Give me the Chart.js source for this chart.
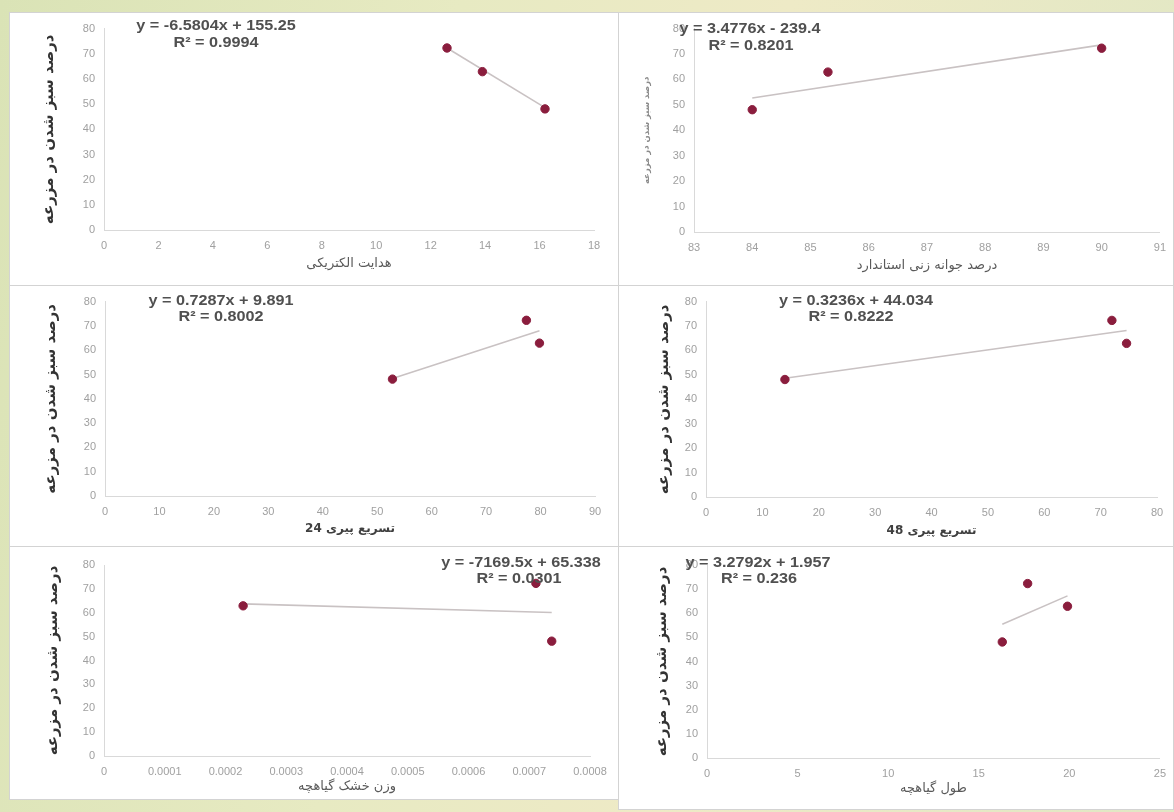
<!DOCTYPE html>
<html>
<head>
<meta charset="utf-8">
<script src="https://cdn.jsdelivr.net/npm/chart.js@4.4.0/dist/chart.umd.min.js"></script>
<style>
  html, body { margin: 0; padding: 0; }
  body {
    width: 1174px; height: 812px; overflow: hidden; position: relative;
    background: linear-gradient(100deg, #dae3b6 0%, #e7eac2 35%, #eeeac6 60%, #e0e7c4 100%);
  }
  .panel { position: absolute; background: #fff; border: 1px solid #d3d3d3; box-sizing: border-box; }
  canvas { position: absolute; left: 0; top: 0; }
</style>
</head>
<body>
<script>
// ---------- data ----------
const yTitle = "درصد سبز شدن در مزرعه";

// Panel 1: electrical conductivity
const ecX = [12.6, 13.9, 16.2];
const ecY = [72.3, 62.9, 48.1];
const ecTrendX = [12.6, 16.2];
const ecTrendY = [72.3, 48.6];
const ecTicks = [0, 2, 4, 6, 8, 10, 12, 14, 16, 18];
const ecEq = ["y = -6.5804x + 155.25", "R² = 0.9994"];

// Panel 2: standard germination percent
const germX = [84, 85.3, 90];
const germY = [48.1, 62.9, 72.3];
const germTrendX = [84, 90];
const germTrendY = [52.7, 73.6];
const germTicks = [83, 84, 85, 86, 87, 88, 89, 90, 91];
const germEq = ["y = 3.4776x - 239.4", "R² = 0.8201"];

// Panel 3: accelerated ageing 24
const age24X = [77.4, 79.8, 52.8];
const age24Y = [72.3, 62.9, 48.1];
const age24TrendX = [52.8, 79.8];
const age24TrendY = [48.4, 68.0];
const age24Ticks = [0, 10, 20, 30, 40, 50, 60, 70, 80, 90];
const age24Eq = ["y = 0.7287x + 9.891", "R² = 0.8002"];

// Panel 4: accelerated ageing 48
const age48X = [72, 74.6, 14];
const age48Y = [72.3, 62.9, 48.1];
const age48TrendX = [14, 74.6];
const age48TrendY = [48.6, 68.2];
const age48Ticks = [0, 10, 20, 30, 40, 50, 60, 70, 80];
const age48Eq = ["y = 0.3236x + 44.034", "R² = 0.8222"];

// Panel 5: seedling dry weight
const dwX = [0.000711, 0.000229, 0.000737];
const dwY = [72.3, 62.9, 48.1];
const dwTrendX = [0.000229, 0.000737];
const dwTrendY = [63.7, 60.1];
const dwTicks = [0, 0.0001, 0.0002, 0.0003, 0.0004, 0.0005, 0.0006, 0.0007, 0.0008];
const dwEq = ["y = -7169.5x + 65.338", "R² = 0.0301"];

// Panel 6: seedling length
const lenX = [17.7, 19.9, 16.3];
const lenY = [72.3, 62.9, 48.1];
const lenTrendX = [16.3, 19.9];
const lenTrendY = [55.4, 67.2];
const lenTicks = [0, 5, 10, 15, 20, 25];
const lenEq = ["y = 3.2792x + 1.957", "R² = 0.236"];

const yTicks = [0, 10, 20, 30, 40, 50, 60, 70, 80];

const xTitles = ["هدایت الکتریکی", "درصد جوانه زنی استاندارد", "تسریع پیری 24", "تسریع پیری 48", "وزن خشک گیاهچه", "طول گیاهچه"];

// ---------- layout (page coordinates) ----------
const panels = [
  { box: [9, 12, 610, 274], plot: [103, 25, 593, 229], yTitleX: 48, yTitleSize: 15, xTitleY: 263, xTitleSize: 13, xBold: false,
    x: ecX, y: ecY, tx: ecTrendX, ty: ecTrendY, ticks: ecTicks, eq: ecEq, eqPos: [[215, 25], [215, 42]], title: xTitles[0] },
  { box: [618, 12, 556, 274], plot: [693, 27, 1159, 231], yTitleX: 646, yTitleSize: 8.5, xTitleY: 265, xTitleSize: 13, xBold: false,
    x: germX, y: germY, tx: germTrendX, ty: germTrendY, ticks: germTicks, eq: germEq, eqPos: [[749, 28], [750, 45]], title: xTitles[1] },
  { box: [9, 285, 610, 262], plot: [104, 300, 594, 495], yTitleX: 50, yTitleSize: 15, xTitleY: 528, xTitleSize: 12, xBold: true,
    x: age24X, y: age24Y, tx: age24TrendX, ty: age24TrendY, ticks: age24Ticks, eq: age24Eq, eqPos: [[220, 300], [220, 316]], title: xTitles[2] },
  { box: [618, 285, 556, 262], plot: [705, 300, 1156, 496], yTitleX: 663, yTitleSize: 15, xTitleY: 530, xTitleSize: 12, xBold: true,
    x: age48X, y: age48Y, tx: age48TrendX, ty: age48TrendY, ticks: age48Ticks, eq: age48Eq, eqPos: [[855, 300], [850, 316]], title: xTitles[3] },
  { box: [9, 546, 610, 254], plot: [103, 564, 589, 755], yTitleX: 52, yTitleSize: 15, xTitleY: 786, xTitleSize: 13, xBold: false,
    x: dwX, y: dwY, tx: dwTrendX, ty: dwTrendY, ticks: dwTicks, eq: dwEq, eqPos: [[520, 562], [518, 578]], title: xTitles[4],
    fmt: v => (v === 0 ? "0" : v.toFixed(4)) },
  { box: [618, 546, 556, 264], plot: [706, 564, 1162, 757], yTitleX: 661, yTitleSize: 15, xTitleY: 788, xTitleSize: 13, xBold: false,
    x: lenX, y: lenY, tx: lenTrendX, ty: lenTrendY, ticks: lenTicks, eq: lenEq, eqPos: [[757, 562], [758, 578]], title: xTitles[5] },
];

const persianFont = "'DejaVu Sans', 'Noto Sans', sans-serif";
const tickFont = { family: "'Liberation Sans', Arial, sans-serif", size: 11 };

panels.forEach((p, i) => {
  const [bx, by, bw, bh] = p.box;
  const div = document.createElement('div');
  div.className = 'panel';
  div.style.left = bx + 'px'; div.style.top = by + 'px';
  div.style.width = bw + 'px'; div.style.height = bh + 'px';
  document.body.appendChild(div);
  const cv = document.createElement('canvas');
  cv.width = bw; cv.height = bh;
  cv.style.width = bw + 'px'; cv.style.height = bh + 'px';
  div.appendChild(cv);

  const yLh = p.yTitleSize * 1.2;
  const scaleLeft = p.yTitleX - bx - yLh / 2;
  const yWidth = (p.plot[0] - bx) - scaleLeft;
  const xLh = p.xTitleSize * 1.2;
  const scaleBottom = p.xTitleY - by + xLh / 2;
  const xHeight = scaleBottom - (p.plot[3] - by);

  const points = p.x.map((v, k) => ({ x: v, y: p.y[k] }));
  const trend = p.tx.map((v, k) => ({ x: v, y: p.ty[k] }));

  const eqPlugin = {
    id: 'eq' + i,
    afterDraw(chart) {
      const ctx = chart.ctx;
      ctx.save();
      ctx.fillStyle = '#505050';
      ctx.font = "bold 15px 'Liberation Sans', Arial, sans-serif";
      ctx.textAlign = 'center';
      ctx.textBaseline = 'middle';
      p.eq.forEach((t, k) => {
        ctx.save();
        ctx.translate(p.eqPos[k][0] - bx, p.eqPos[k][1] - by);
        ctx.scale(1.08, 1);
        ctx.fillText(t, 0, 0);
        ctx.restore();
      });
      ctx.restore();
    }
  };

  new Chart(cv, {
    type: 'scatter',
    data: {
      datasets: [
        { data: points, backgroundColor: '#8a1d3d', borderColor: '#8a1d3d', pointRadius: 4.2, pointHoverRadius: 4.2, order: 0 },
        { type: 'line', data: trend, showLine: true, borderColor: '#c9c2c3', borderWidth: 1.6, pointRadius: 0, fill: false, order: 1 }
      ]
    },
    options: {
      responsive: false,
      animation: false,
      events: [],
      layout: { padding: { left: scaleLeft, top: p.plot[1] - by, right: bx + bw - p.plot[2], bottom: bh - scaleBottom } },
      plugins: { legend: { display: false }, tooltip: { enabled: false } },
      scales: {
        x: {
          type: 'linear',
          min: p.ticks[0], max: p.ticks[p.ticks.length - 1],
          afterBuildTicks: s => { s.ticks = p.ticks.map(v => ({ value: v })); },
          afterFit: s => { s.height = xHeight; },
          grid: { display: false, drawTicks: false },
          border: { display: true, color: '#d9d9d9', width: 1 },
          ticks: { color: '#a0a0a0', font: tickFont, padding: 9, maxRotation: 0, autoSkip: false,
                   callback: p.fmt ? (v => p.fmt(v)) : (v => String(v)) },
          title: { display: true, text: p.title, color: p.xBold ? '#404040' : '#5a5a5a', padding: 0,
                   font: { family: persianFont, size: p.xTitleSize, weight: p.xBold ? 'bold' : 'normal' } }
        },
        y: {
          type: 'linear',
          min: 0, max: 80,
          afterBuildTicks: s => { s.ticks = yTicks.map(v => ({ value: v })); },
          afterFit: s => { s.width = yWidth; },
          grid: { display: false, drawTicks: false },
          border: { display: true, color: '#d9d9d9', width: 1 },
          ticks: { color: '#a0a0a0', font: tickFont, padding: 9 },
          title: { display: true, text: yTitle, color: p.yTitleSize > 12 ? '#333333' : '#8a8a8a', padding: 0,
                   font: { family: persianFont, size: p.yTitleSize, weight: 'bold' } }
        }
      }
    },
    plugins: [eqPlugin]
  });
});
</script>
</body>
</html>
